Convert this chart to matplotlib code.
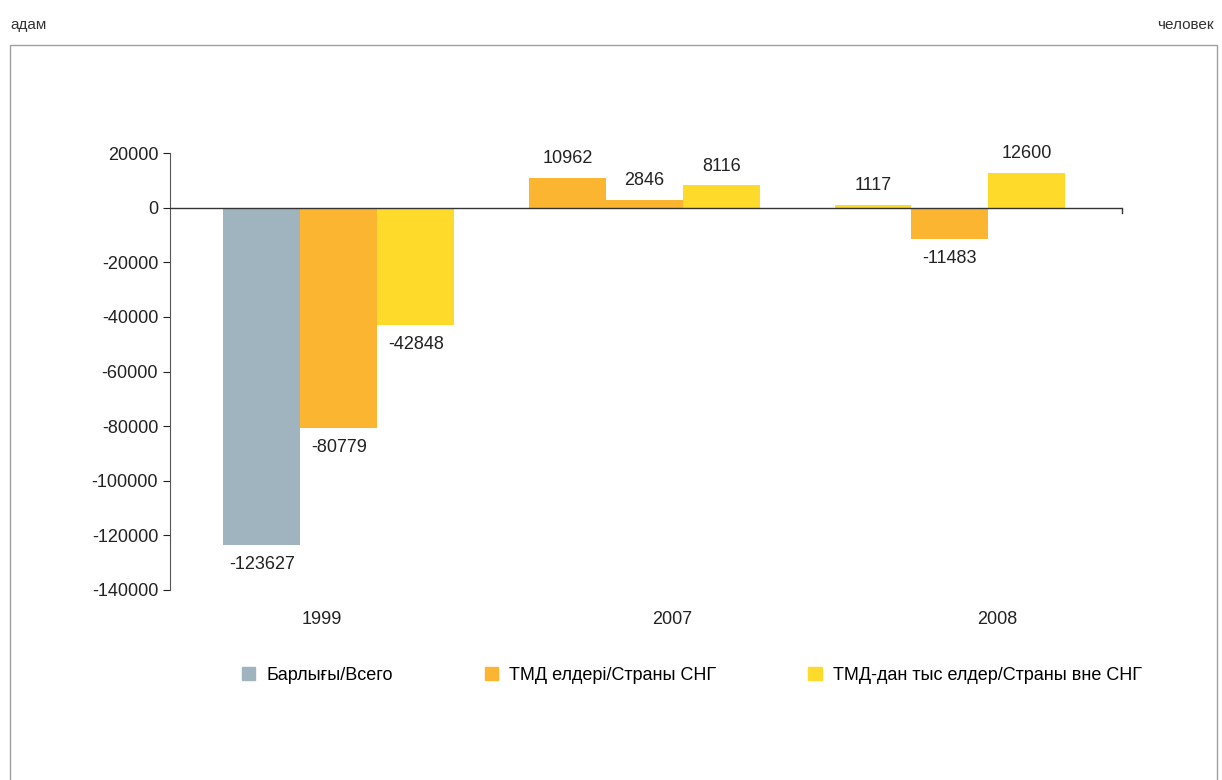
import numpy as np
import matplotlib.pyplot as plt
from matplotlib.patches import Patch, Rectangle

plt.rcParams['font.family'] = ['Liberation Sans', 'DejaVu Sans']
plt.rcParams['axes.unicode_minus'] = False

# data
years = ["1999", "2007", "2008"]
vsego = [-123627, 10962, 1117]
sng = [-80779, 2846, -11483]
vne_sng = [-42848, 8116, 12600]
series_names = ["Барлығы/Всего", "ТМД елдері/Страны СНГ",
                "ТМД-дан тыс елдер/Страны вне СНГ"]

GREY, ORANGE, YELLOW = "#9fb4bf", "#fbb531", "#fedb2a"
# the original colours some bars oddly, keep that
bar_colors = [
    [GREY, ORANGE, YELLOW],     # 1999
    [ORANGE, ORANGE, YELLOW],   # 2007
    [YELLOW, ORANGE, YELLOW],   # 2008
]
# year labels are not centred under the groups in the original
label_shift = [-0.056, 0.092, 0.154]

fig = plt.figure(figsize=(12.22, 7.8), dpi=100)
ax = fig.add_axes([170/1222, 1-590/780, (1122-170)/1222, (590-153)/780])

# outer frame
fig.patches.append(Rectangle((10/1222, -0.01), 1207/1222, 1-45/780+0.01,
                             transform=fig.transFigure, fill=False,
                             edgecolor="#a0a0a0", lw=1))
fig.text(10/1222, 1-25/780, "адам", fontsize=11, va="center", ha="left", color="#333333")
fig.text(1214/1222, 1-25/780, "человек", fontsize=11, va="center", ha="right", color="#333333")

x = np.arange(len(years))
w = 0.252
fs = 13
all_series = [vsego, sng, vne_sng]
for j, vals in enumerate(all_series):
    for i, v in enumerate(vals):
        xp = x[i] + (j - 1) * w
        ax.bar(xp, v, w, color=bar_colors[i][j], zorder=2)
        if v >= 0:
            ax.text(xp, v + 4000, f"{v}", ha="center", va="bottom", fontsize=fs, color="#222222")
        else:
            ax.text(xp, v - 4000, f"{v}", ha="center", va="top", fontsize=fs, color="#222222")

ax.set_ylim(-140000, 20000)
ax.set_xlim(-0.553, 2.563)
ax.set_yticks(range(-140000, 20001, 20000))
ax.tick_params(axis="y", labelsize=fs, colors="#222222", length=5, direction="out")
ax.set_xticks(x + np.array(label_shift))
ax.set_xticklabels(years)
ax.tick_params(axis="x", length=0, labelsize=fs, pad=15, colors="#222222")
ax.spines["left"].set_color("#555555")
for s in ["top", "right", "bottom"]:
    ax.spines[s].set_visible(False)
ax.axhline(0, color="#333333", lw=1, zorder=3)
ax.plot([2.563, 2.563], [0, -2000], color="#333333", lw=1, clip_on=False)

handles = [Patch(color=c) for c in [GREY, ORANGE, YELLOW]]
fig.legend(handles, series_names, loc="center", bbox_to_anchor=(0.566, 1-675/780),
           ncol=3, frameon=False, fontsize=fs, handlelength=0.75, handleheight=0.75,
           columnspacing=5.1, handletextpad=0.6)

plt.savefig("out.png", dpi=100)
